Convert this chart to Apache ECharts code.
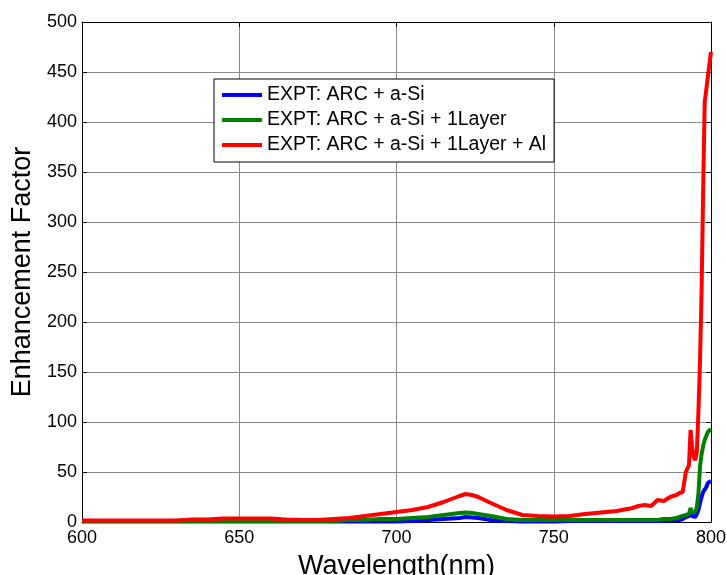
<!DOCTYPE html>
<html>
<head>
<meta charset="utf-8">
<script src="https://cdn.jsdelivr.net/npm/echarts@6/dist/echarts.min.js"></script>
<style>html,body{margin:0;padding:0;background:#fff}#c{width:727px;height:575px}</style>
</head>
<body>
<div id="c"></div>
<script>
const wavelengths = [600,605,610,615,620,625,630,635,640,645,650,655,660,665,670,675,680,685,690,695,700,705,710,715,
  720,722,724,726,728,730,735,740,745,750,755,760,765,770,775,777,779,781,782,783,785,787,789,790,791,792,793,
  793.5,794,794.5,795,795.5,796,796.5,797,797.5,798,798.5,799,799.5,800];
const seriesNames = ['EXPT: ARC + a-Si','EXPT: ARC + a-Si + 1Layer','EXPT: ARC + a-Si + 1Layer + Al'];
const blueVals = [0.5,0.5,0.5,0.5,0.5,0.5,0.5,0.5,0.5,0.5,0.5,0.5,0.5,0.5,0.5,0.5,0.5,0.5,0.5,0.5,0.5,1,2,3,
  4,5,4.5,4,3,2, 1,0.5,0.5,0.5,1,1,1,1,1, 1,1,1,1,1,1,1.5,2, 2,3,5,6,
  9,6,5,5,8,12,19,25,30,32,35,39,40,41];
const greenVals = [1,1,1,1,1,1,1,1,1,1,1,1,1,1,1,1,1,2,2,3,3,4,5,7,
  9,9.5,9,8,7,6, 3,2,2,2,2,2,2,2,2, 2,2,2,2,2,3,3,4, 5,6,7,8,
  14,10,9,10,15,28,55,68,76,82,86,90,92,93];
const redVals = [1.5,1.5,1.5,1.5,1.5,1.5,1.5,2.5,2.5,3.5,3.5,3.5,3.5,2.5,2,2,3,4,6,8,10,12,15,20,
  26,28,27,25,22,19, 12,7,6,5.5,6,8,9.5,11,14, 16,17,16,19,22,21,25,27, 29,30,50,57,
  92,75,65,62,70,110,160,230,330,420,432,445,458,470];
const xTicks = {min:600,max:800,interval:50};
const yTicks = {min:0,max:500,interval:50};

const pair = v => wavelengths.map((w,i)=>[w,v[i]]);
const font = 'Liberation Sans, Arial, sans-serif';
const chart = echarts.init(document.getElementById('c'));
const axCommon = {
  axisLine:{show:true,onZero:false,lineStyle:{color:'#000',width:1}},
  axisTick:{show:true,inside:true,length:5,lineStyle:{color:'#000'}},
};
chart.setOption({
  animation:false,
  grid:{left:82,right:16,top:22,bottom:53,outerBoundsMode:'none',containLabel:false},
  legend:{
    orient:'vertical',left:214,top:79,
    backgroundColor:'#fff',borderColor:'#000',borderWidth:1,
    padding:[6,8,7,8],itemGap:5,itemWidth:40,itemHeight:4,
    icon:'rect',
    textStyle:{fontFamily:font,fontSize:19.5,color:'#000'},
    data:seriesNames
  },
  xAxis:[
    Object.assign({type:'value',position:'bottom',min:xTicks.min,max:xTicks.max,interval:xTicks.interval,
      name:'Wavelength(nm)',nameLocation:'middle',nameGap:31,
      nameTextStyle:{fontFamily:font,fontSize:27,color:'#000'},
      axisLabel:{fontFamily:font,fontSize:18,color:'#000',margin:7},
      splitLine:{show:true,lineStyle:{color:'#8a8a8a',width:1}}},axCommon),
    Object.assign({type:'value',position:'top',min:xTicks.min,max:xTicks.max,interval:xTicks.interval,
      axisLabel:{show:false},splitLine:{show:false}},axCommon)
  ],
  yAxis:[
    Object.assign({type:'value',position:'left',min:yTicks.min,max:yTicks.max,interval:yTicks.interval,
      name:'Enhancement Factor',nameLocation:'middle',nameGap:45,
      nameTextStyle:{fontFamily:font,fontSize:27,color:'#000'},
      axisLabel:{fontFamily:font,fontSize:18,color:'#000',margin:5},
      splitLine:{show:true,lineStyle:{color:'#8a8a8a',width:1}}},axCommon),
    Object.assign({type:'value',position:'right',min:yTicks.min,max:yTicks.max,interval:yTicks.interval,
      axisLabel:{show:false},splitLine:{show:false}},axCommon)
  ],
  series:[
    {name:seriesNames[0],type:'line',data:pair(blueVals),showSymbol:false,color:'#0000ff',lineStyle:{width:4,color:'#0000ff'}},
    {name:seriesNames[1],type:'line',data:pair(greenVals),showSymbol:false,color:'#008000',lineStyle:{width:4,color:'#008000'}},
    {name:seriesNames[2],type:'line',data:pair(redVals),showSymbol:false,color:'#ff0000',lineStyle:{width:4,color:'#ff0000'}}
  ]
});
</script>
</body>
</html>
